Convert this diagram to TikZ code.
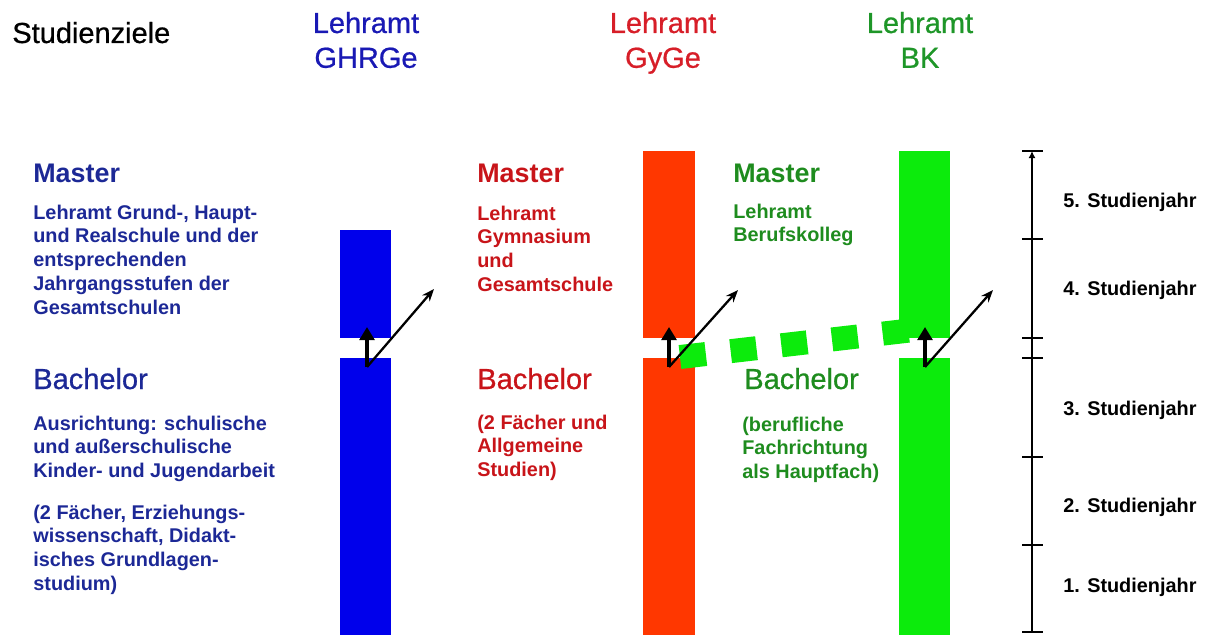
\documentclass[tikz,border=0pt]{standalone}
\usepackage{fontspec}
\setmainfont{Liberation Sans}
\newfontfamily\heavyreg[FakeBold=0.7]{Liberation Sans}
\usetikzlibrary{arrows.meta}

\definecolor{barblue}{RGB}{0,0,235}
\definecolor{barred}{RGB}{255,55,0}
\definecolor{bargreen}{RGB}{12,235,12}
\definecolor{txtblue}{RGB}{28,40,150}
\definecolor{hdrblue}{RGB}{25,25,180}
\definecolor{txtred}{RGB}{200,20,25}
\definecolor{hdrred}{RGB}{215,30,40}
\definecolor{txtgreen}{RGB}{30,140,30}
\definecolor{hdrgreen}{RGB}{30,150,40}

% left-aligned block of lines, baseline at the first line
\newcommand\leftlines[1]{\begin{tabular}[t]{@{}l@{}}#1\end{tabular}}
% centred block of lines, baseline at the first line
\newcommand\midlines[1]{\begin{tabular}[t]{@{}c@{}}#1\end{tabular}}

\begin{document}
\begin{tikzpicture}[x=0.02cm,y=-0.02cm,
  txt/.style={inner sep=0pt, anchor=base west},
  headline/.style={inner sep=0pt, anchor=base, font=\heavyreg\fontsize{16.5}{19.8}\selectfont},
  titletxt/.style={txt, font=\heavyreg\fontsize{16.5}{19.8}\selectfont},
  mastertxt/.style={txt, font=\fontsize{15.3}{18}\selectfont\bfseries},
  bachelortxt/.style={txt, font=\heavyreg\fontsize{16.5}{19.8}\selectfont},
  bodytxt/.style={txt, font=\fontsize{11.3}{13.6}\selectfont\bfseries},
  yeartxt/.style={txt, font=\fontsize{11.3}{13.6}\selectfont\bfseries},
  thickup/.style={line width=2.7pt, -{Triangle[length=7.5pt,width=8.5pt]}},
  diagarr/.style={line width=1.3pt, -{Stealth[length=7pt,width=5.5pt]}},
  scaleline/.style={line width=1.6pt, -{Latex[length=4pt,width=4pt]}},
  tickmark/.style={line width=1.6pt},
  greendash/.style={draw=bargreen, line width=0.48cm, dash pattern=on 0.52cm off 0.5cm}
]
\useasboundingbox (0,0) rectangle (1211,635);

% ---- column headings ----
\node[titletxt] (title) at (12,43) {Studienziele};
\node[headline, text=hdrblue]  (hGHRGe) at (366,33) {\midlines{Lehramt\\GHRGe}};
\node[headline, text=hdrred]   (hGyGe)  at (663,33) {\midlines{Lehramt\\GyGe}};
\node[headline, text=hdrgreen] (hBK)    at (920,33) {\midlines{Lehramt\\BK}};

% ---- bars: master part and bachelor part ----
\fill[barblue]  (340,230) rectangle (391,338);
\fill[barblue]  (340,358) rectangle (391,635);
\fill[barred]   (643,151) rectangle (695,338);
\fill[barred]   (643,358) rectangle (695,635);
\fill[bargreen] (899,151) rectangle (950,338);
\fill[bargreen] (899,358) rectangle (950,635);

% ---- transition from GyGe bachelor to BK master ----
\coordinate (dashStart) at (680,357);
\coordinate (dashEnd)   at (914,330);
\draw[greendash] (dashStart) -- (dashEnd);

% ---- transition arrows at the end of the bachelor ----
\coordinate (bFoot) at (367,367); \coordinate (bUp) at (367,327); \coordinate (bOut) at (434,289);
\coordinate (rFoot) at (669,367); \coordinate (rUp) at (669,327); \coordinate (rOut) at (738,290);
\coordinate (gFoot) at (925,367); \coordinate (gUp) at (925,327); \coordinate (gOut) at (993,290);
\draw[thickup] (bFoot) -- (bUp);
\draw[diagarr] (bFoot) -- (bOut);
\draw[thickup] (rFoot) -- (rUp);
\draw[diagarr] (rFoot) -- (rOut);
\draw[thickup] (gFoot) -- (gUp);
\draw[diagarr] (gFoot) -- (gOut);

% ---- GHRGe texts ----
\node[mastertxt, text=txtblue] (mBlue) at (33,183) {Master};
\node[bodytxt, text=txtblue] (mBlueTxt) at (33,219)
  {\leftlines{Lehramt Grund-, Haupt-\\und Realschule und der\\entsprechenden\\Jahrgangsstufen der\\Gesamtschulen}};
\node[bachelortxt, text=txtblue] (baBlue) at (33,389) {Bachelor};
\node[bodytxt, text=txtblue] (baBlueTxt) at (33,430)
  {\leftlines{Ausrichtung: schulische\\und außerschulische\\Kinder- und Jugendarbeit}};
\node[bodytxt, text=txtblue] (baBlueTxtB) at (33,519)
  {\leftlines{(2 Fächer, Erziehungs-\\wissenschaft, Didakt-\\isches Grundlagen-\\studium)}};

% ---- GyGe texts ----
\node[mastertxt, text=txtred] (mRed) at (477,183) {Master};
\node[bodytxt, text=txtred] (mRedTxt) at (477,220)
  {\leftlines{Lehramt\\Gymnasium\\und\\Gesamtschule}};
\node[bachelortxt, text=txtred] (baRed) at (477,389) {Bachelor};
\node[bodytxt, text=txtred] (baRedTxt) at (477,429)
  {\leftlines{(2 Fächer und\\Allgemeine\\Studien)}};

% ---- BK texts ----
\node[mastertxt, text=txtgreen] (mGreen) at (733,183) {Master};
\node[bodytxt, text=txtgreen] (mGreenTxt) at (733,218)
  {\leftlines{Lehramt\\Berufskolleg}};
\node[bachelortxt, text=txtgreen] (baGreen) at (744,389) {Bachelor};
\node[bodytxt, text=txtgreen] (baGreenTxt) at (742,431)
  {\leftlines{(berufliche\\Fachrichtung\\als Hauptfach)}};

% ---- time scale ----
\coordinate (tlBot) at (1032,632);
\coordinate (tlTop) at (1032,151);
\draw[scaleline] (tlBot) -- (tlTop);
\foreach \ty in {151,239,338,358,457,545,632}
  \draw[tickmark] (1022,\ty) -- (1043,\ty);
\node[yeartxt] (y5) at (1063,208) {5. Studienjahr};
\node[yeartxt] (y4) at (1063,295) {4. Studienjahr};
\node[yeartxt] (y3) at (1063,415) {3. Studienjahr};
\node[yeartxt] (y2) at (1063,512) {2. Studienjahr};
\node[yeartxt] (y1) at (1063,592) {1. Studienjahr};
\end{tikzpicture}
\end{document}
